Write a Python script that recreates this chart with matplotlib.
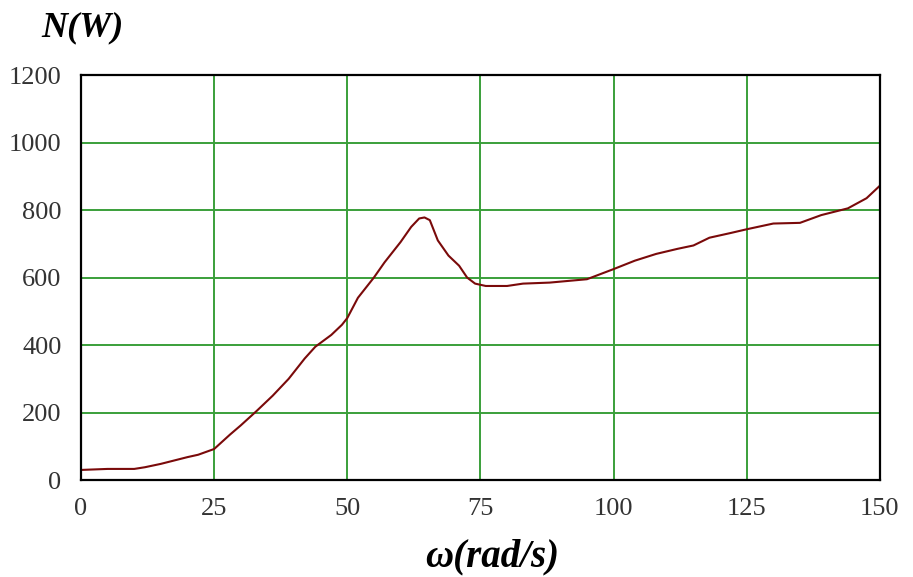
import numpy as np
from matplotlib import pyplot as plt

# angular speed (rad/s) and power (W)
omega = [0, 5, 10, 12, 15, 18, 20, 22, 25, 28, 30, 33, 36, 39, 42, 44, 47, 49,
         50, 52, 55, 57, 60, 62, 63.5, 64.5, 65.5, 67, 69, 71, 72.5, 74, 76, 80,
         83, 88, 95, 100, 104, 108, 112, 115, 118, 122, 125, 130, 135, 139, 144,
         147.5, 150]
power = [30, 33, 33, 38, 48, 60, 68, 75, 92, 135, 162, 205, 250, 300, 360, 395,
         430, 460, 480, 540, 600, 645, 705, 750, 775, 778, 770, 710, 665, 635,
         600, 582, 575, 575, 582, 585, 595, 625, 650, 670, 685, 695, 718, 732,
         743, 760, 762, 785, 805, 835, 872]
xticks = [0, 25, 50, 75, 100, 125, 150]
yticks = [0, 200, 400, 600, 800, 1000, 1200]

plt.rcParams['font.family'] = ['Liberation Serif', 'DejaVu Serif']

fig = plt.figure(figsize=(9.13, 5.77), dpi=100)
ax = fig.add_axes([0.0887, 0.168, 0.875, 0.702])

ax.plot(omega, power, color='#7a0a0a', lw=1.5)

ax.set_xlim(0, 150)
ax.set_ylim(0, 1200)
ax.set_xticks(xticks)
ax.set_yticks(yticks)
ax.grid(True, color='#3a9f3a', lw=1.4)
ax.set_axisbelow(True)
ax.tick_params(length=0, labelsize=19, colors='#333333')
ax.tick_params(axis='y', pad=14)
ax.tick_params(axis='x', pad=13)
for s in ax.spines.values():
    s.set_linewidth(1.6)
    s.set_color('black')

# axis titles sit outside the axes like in the original
fig.text(0.045, 0.951, 'N(W)', fontsize=26, fontweight='bold',
         fontstyle='italic', ha='left', va='center')
fig.text(0.539, 0.035, 'ω(rad/s)', fontsize=28, fontweight='bold',
         fontstyle='italic', ha='center', va='center')

plt.savefig('out.png', dpi=100)
